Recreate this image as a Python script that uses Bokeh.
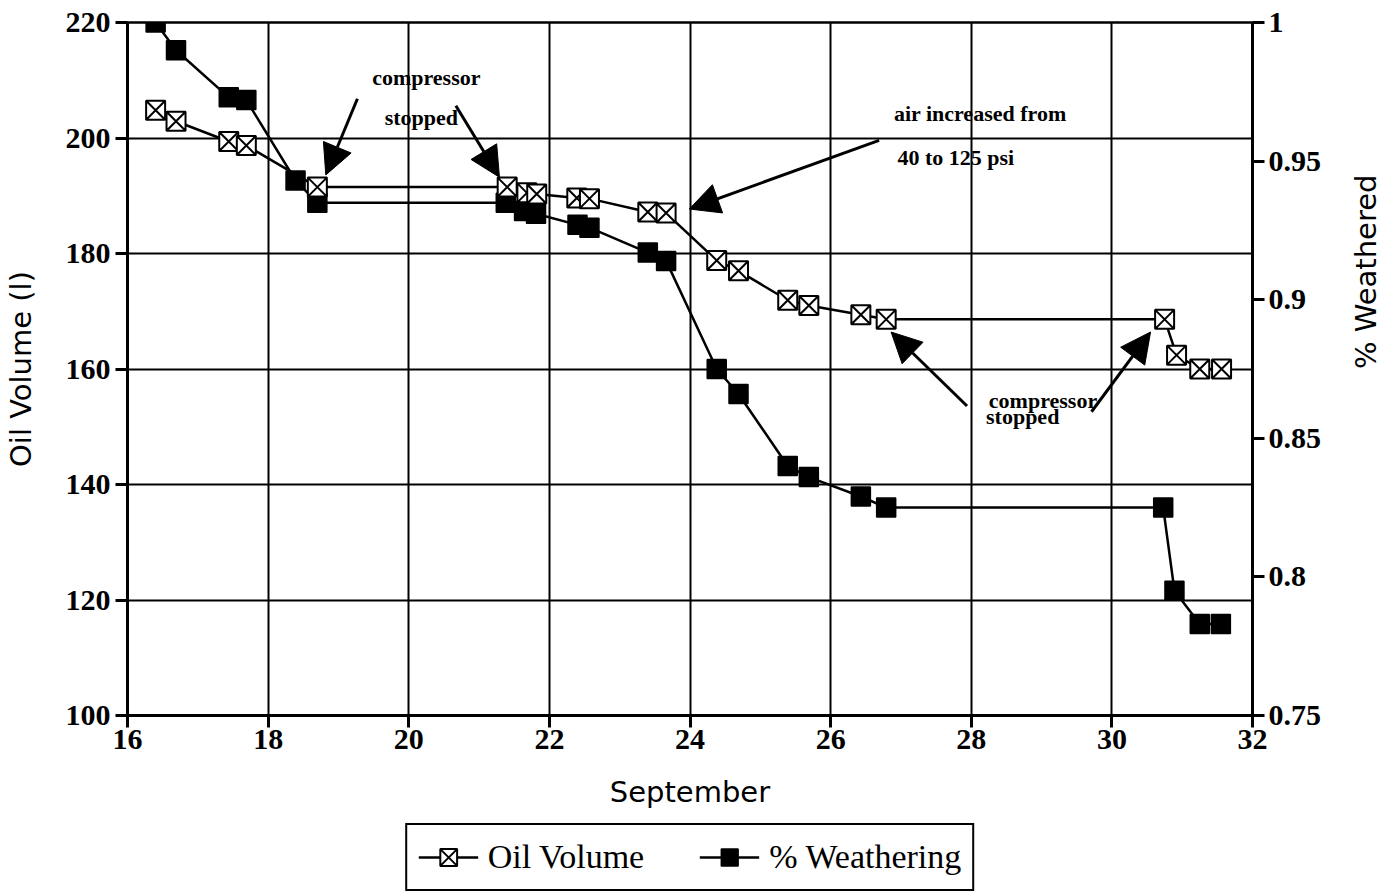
import math
from bokeh.plotting import figure
from bokeh.layouts import column
from bokeh.models import (LinearAxis, Range1d, FixedTicker, Legend, LegendItem,
                          Arrow, NormalHead, Label)
from bokeh.embed import file_html
from bokeh.resources import INLINE

# ---------------- data ----------------
oil_days = [16.40, 16.69, 17.44, 17.69, 18.70, 21.40, 21.68, 21.82, 22.39, 22.57,
            23.40, 23.66, 24.38, 24.69, 25.39, 25.69, 26.43, 26.79, 30.75, 30.92,
            31.25, 31.56]
oil_volume = [204.8, 202.9, 199.4, 198.7, 191.5, 191.5, 190.5, 190.3, 189.6, 189.5,
              187.2, 187.0, 178.8, 177.0, 171.9, 171.0, 169.4, 168.6, 168.6, 162.4,
              160.0, 160.0]

w_days = [16.40, 16.69, 17.44, 17.69, 18.39, 18.70, 21.38, 21.64, 21.81, 22.40,
          22.57, 23.40, 23.66, 24.38, 24.69, 25.39, 25.69, 26.43, 26.79, 30.73,
          30.89, 31.25, 31.55]
weathered = [1.000, 0.990, 0.973, 0.972, 0.943, 0.935, 0.935, 0.932, 0.931, 0.927,
             0.926, 0.917, 0.914, 0.875, 0.866, 0.840, 0.836, 0.829, 0.825, 0.825,
             0.795, 0.783, 0.783]

x_ticks = [16, 18, 20, 22, 24, 26, 28, 30, 32]
left_ticks = [100, 120, 140, 160, 180, 200, 220]
right_ticks = [0.75, 0.8, 0.85, 0.9, 0.95, 1.0]
right_tick_labels = ["0.75", "0.8", "0.85", "0.9", "0.95", "1"]

series_names = ["Oil Volume", "% Weathering"]

# annotations: (text, x, y, align)
notes = [
    ("compressor", 20.25, 210.5, "center"),
    ("stopped", 20.18, 203.6, "center"),
    ("air increased from", 26.90, 204.2, "left"),
    ("40 to 125 psi", 26.95, 196.7, "left"),
    ("compressor", 28.25, 154.6, "left"),
    ("stopped", 28.21, 151.7, "left"),
]
# arrows: (x_start, y_start, x_end, y_end)
arrows = [
    (19.27, 206.8, 18.82, 193.6),
    (20.67, 205.6, 21.29, 193.2),
    (26.69, 199.6, 23.99, 187.7),
    (27.94, 153.6, 26.86, 166.4),
    (29.71, 152.6, 30.55, 166.4),
]

SERIF = "Liberation Serif"
SANS = "DejaVu Sans"

p = figure(frame_width=1125, frame_height=693, output_backend="svg",
           toolbar_location=None, x_range=Range1d(16, 32), y_range=Range1d(100, 220),
           min_border_left=125, min_border_top=22, min_border_right=125,
           min_border_bottom=0, background_fill_color="white",
           border_fill_color="white")
p.extra_y_ranges = {"w": Range1d(0.75, 1.0)}

p.outline_line_color = "black"
p.outline_line_width = 2.5

p.xgrid.ticker = FixedTicker(ticks=x_ticks)
p.ygrid.ticker = FixedTicker(ticks=left_ticks)
for g in (p.xgrid, p.ygrid):
    g.grid_line_color = "black"
    g.grid_line_width = 2

def style_axis(ax):
    ax.axis_line_color = "black"
    ax.axis_line_width = 3
    ax.major_tick_line_color = "black"
    ax.major_tick_line_width = 3
    ax.major_tick_out = 12
    ax.major_tick_in = 0
    ax.minor_tick_line_color = None
    ax.major_label_text_font = SERIF
    ax.major_label_text_font_size = "30px"
    ax.major_label_text_font_style = "bold"
    ax.major_label_text_color = "black"
    ax.axis_label_text_font = SANS
    ax.axis_label_text_font_size = "29px"
    ax.axis_label_text_font_style = "normal"
    ax.axis_label_text_color = "black"

xa = p.xaxis[0]
xa.ticker = FixedTicker(ticks=x_ticks)
xa.axis_label = "September"
style_axis(xa)
xa.major_label_standoff = 2
xa.axis_label_standoff = 23

ya = p.yaxis[0]
ya.ticker = FixedTicker(ticks=left_ticks)
ya.axis_label = "Oil Volume (l)"
style_axis(ya)
ya.major_label_standoff = 5
ya.axis_label_standoff = 25

ra = LinearAxis(y_range_name="w", ticker=FixedTicker(ticks=right_ticks),
                major_label_overrides={t: s for t, s in zip(right_ticks, right_tick_labels)},
                axis_label="% Weathered")
style_axis(ra)
ra.major_label_standoff = 4
ra.axis_label_standoff = 42
if "axis_label_orientation" in LinearAxis.properties():
    ra.axis_label_orientation = math.pi / 2
p.add_layout(ra, "right")

def draw_series(fig, xs, ys, kind, **kw):
    ln = fig.line(xs, ys, line_color="black", line_width=2.5, **kw)
    if kind == "oil":
        sc = fig.scatter(xs, ys, marker="square_x", size=19, fill_color="white",
                         line_color="black", line_width=2, **kw)
    else:
        sc = fig.scatter(xs, ys, marker="square", size=19, fill_color="black",
                         line_color="black", line_width=1.5, **kw)
    return ln, sc

draw_series(p, w_days, weathered, "w", y_range_name="w")
draw_series(p, oil_days, oil_volume, "oil")

for (x0, y0, x1, y1) in arrows:
    p.add_layout(Arrow(x_start=x0, y_start=y0, x_end=x1, y_end=y1,
                       line_color="black", line_width=3,
                       end=NormalHead(size=30, fill_color="black", line_color="black",
                                      line_width=1)))
for (txt, x, y, al) in notes:
    p.add_layout(Label(x=x, y=y, text=txt, text_font=SERIF, text_font_size="22px",
                       text_font_style="bold",
                       text_align=al, text_baseline="middle", text_color="black"))

# legend strip below the chart: its own small figure, same frame width.
# The series are drawn there too but fall outside its (0..1) ranges, so only
# the legend shows.
lg = figure(frame_width=1125, frame_height=72, output_backend="svg",
            toolbar_location=None, min_border_left=125, min_border_right=125,
            min_border_top=10, min_border_bottom=0, x_range=Range1d(0, 1),
            y_range=Range1d(0, 1), outline_line_color=None,
            background_fill_color="white", border_fill_color="white")
lg.axis.visible = False
lg.grid.visible = False
lo, so = draw_series(lg, oil_days, oil_volume, "oil")
lw, sw = draw_series(lg, w_days, weathered, "w")

legend = Legend(items=[LegendItem(label=series_names[0], renderers=[lo, so]),
                       LegendItem(label=series_names[1], renderers=[lw, sw])],
                orientation="horizontal", location="center",
                label_text_font=SERIF, label_text_font_size="34px",
                label_text_color="black", glyph_width=60, glyph_height=42,
                label_standoff=10, spacing=55, padding=11, margin=0,
                label_height=40,
                border_line_color="black", border_line_width=2.5,
                border_line_alpha=1.0,
                background_fill_color="white", background_fill_alpha=1.0)
lg.add_layout(legend)

page = column(p, lg, spacing=0)
open("out.html", "w").write(file_html(page, INLINE))
